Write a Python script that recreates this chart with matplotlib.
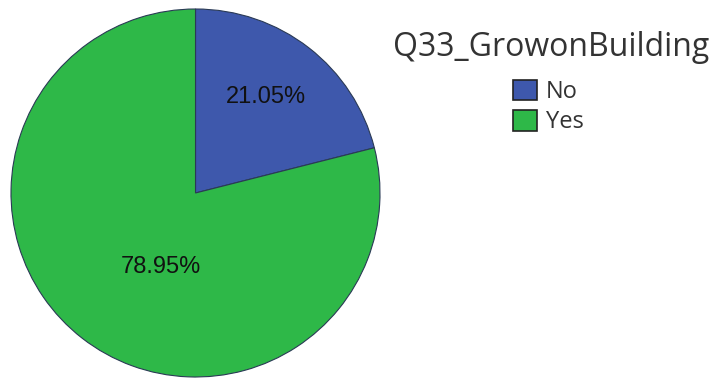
import matplotlib.pyplot as plt
from matplotlib.patches import Patch

# Responses to Q33
categories = ["No", "Yes"]
percents = [21.05, 78.95]
colors = ["#3e58ac", "#2eb848"]
legend_title = "Q33_GrowonBuilding"

# Where each percentage label sits inside its wedge (data coords, radius 1)
label_pos = [(0.38, 0.52), (-0.19, -0.40)]

W, H = 716, 378
fig = plt.figure(figsize=(W / 100, H / 100), dpi=100)

# Pie area in pixel units: left 11, bottom edge at y=377, diameter ~369
ax = fig.add_axes([11 / W, (H - 377) / H, 369 / W, 368 / H])
ax.pie(percents, colors=colors, startangle=90, counterclock=False,
       radius=1.0, wedgeprops=dict(edgecolor="#2a3a55", linewidth=0.8))
ax.set_xlim(-1, 1)
ax.set_ylim(-1, 1)
ax.set_aspect("auto")
ax.axis("off")

for (x, y), p in zip(label_pos, percents):
    ax.text(x, y, f"{p:.2f}%", ha="center", va="center",
            fontsize=17, family="Liberation Sans", color="#111111")

# Legend
fig.text(551 / W, 1 - 48 / H, legend_title, ha="center", va="center",
         fontsize=23, family="Open Sans", color="#333333")
handles = [Patch(facecolor=c, edgecolor="#222222", linewidth=1.2) for c in colors]
leg = fig.legend(handles, categories, loc="upper left",
                 bbox_to_anchor=(513 / W, 1 - 80 / H), frameon=False,
                 prop={"family": "Open Sans", "size": 17},
                 handlelength=1.0, handleheight=0.95, handletextpad=0.4,
                 labelspacing=0.25, borderpad=0.0, borderaxespad=0.0)
for t in leg.get_texts():
    t.set_color("#333333")

fig.savefig("out.png", dpi=100, facecolor="white")
